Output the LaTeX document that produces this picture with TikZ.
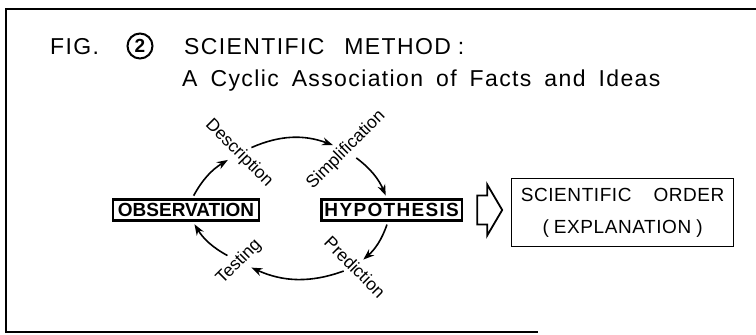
\documentclass[tikz,border=0pt]{standalone}
\usepackage{fontspec}
\setmainfont{Liberation Sans}
\newfontfamily\headfont[LetterSpace=6]{Liberation Sans}
\newfontfamily\boxfont[LetterSpace=3]{Liberation Sans}
\newfontfamily\stagefont{Liberation Sans}
\newcommand\widegap{\spaceskip=13pt plus 2pt\relax}
\usetikzlibrary{arrows.meta,positioning}

\begin{document}
\begin{tikzpicture}[x=1pt,y=-1pt,
  every node/.style={font=\fontsize{17.5}{20}\selectfont},
  title/.style={anchor=base west,inner sep=0pt,font=\headfont\fontsize{23}{27}\selectfont\widegap},
  stage/.style={draw,line width=2.4pt,minimum height=21pt,inner sep=0pt,font=\stagefont\fontsize{19}{21}\selectfont\bfseries},
  tag/.style={inner sep=1.5pt},
  cyc/.style={-{Stealth[length=11pt,width=8pt]},line width=1.6pt,shorten <=3pt,shorten >=3pt}]
\useasboundingbox (0,0) rectangle (756,335);
\draw[line width=1.6pt] (756,9) -- (6,9) -- (6,332) -- (538,332);
% heading
\node[title] (fig) at (50,54) {FIG.};
\node[draw,circle,line width=2pt,minimum size=25pt,inner sep=0pt,font=\stagefont\fontsize{19}{19}\selectfont\bfseries] (num) at (140,46) {2};
\node[title] (head) at (184,54) {SCIENTIFIC\hspace{20pt}METHOD\hspace{7pt}:};
\node[title] (sub) at (182,86) {A Cyclic Association of Facts and Ideas};
% cycle
\node[stage,minimum width=146pt] (obs) at (186,210) {OBSERVATION};
\node[stage,minimum width=140.6pt,right=60pt of obs] (hyp) {\addfontfeature{LetterSpace=7}HYPOTHESIS};
\node[tag,rotate=-45] (desc) at (239,153) {Description};
\node[tag,rotate=45] (simp) at (346,150) {Simplification};
\node[tag,rotate=-45] (pred) at (355,267) {Prediction};
\node[tag,rotate=45] (test) at (239,262) {Testing};
\draw[cyc] (obs) to[bend left=15] (desc);
\draw[cyc] (desc) to[bend left=22] (simp);
\draw[cyc] (simp) to[bend left=15] (hyp);
\draw[cyc] (hyp) to[bend left=15] (pred);
\draw[cyc] (pred) to[bend left=22] (test);
\draw[cyc] (test) to[bend left=15] (obs);
% result
\node[draw,line width=0.9pt,right=48pt of hyp,yshift=-2.5pt,minimum width=222pt,minimum height=68pt,align=center,font=\boxfont\fontsize{19}{32}\selectfont] (order) {SCIENTIFIC\hspace{22pt}ORDER\\(\hspace{5pt}EXPLANATION\hspace{5pt})};
\coordinate[right=14pt of hyp] (imp);
\draw[line width=1.8pt,line join=miter] (imp) ++(0,-14.5) -- ++(10,0) -- ++(0,-11) -- ++(15,25.5) -- ++(-15,25.5) -- ++(0,-11) -- ++(-10,0) -- cycle;
\end{tikzpicture}
\end{document}
